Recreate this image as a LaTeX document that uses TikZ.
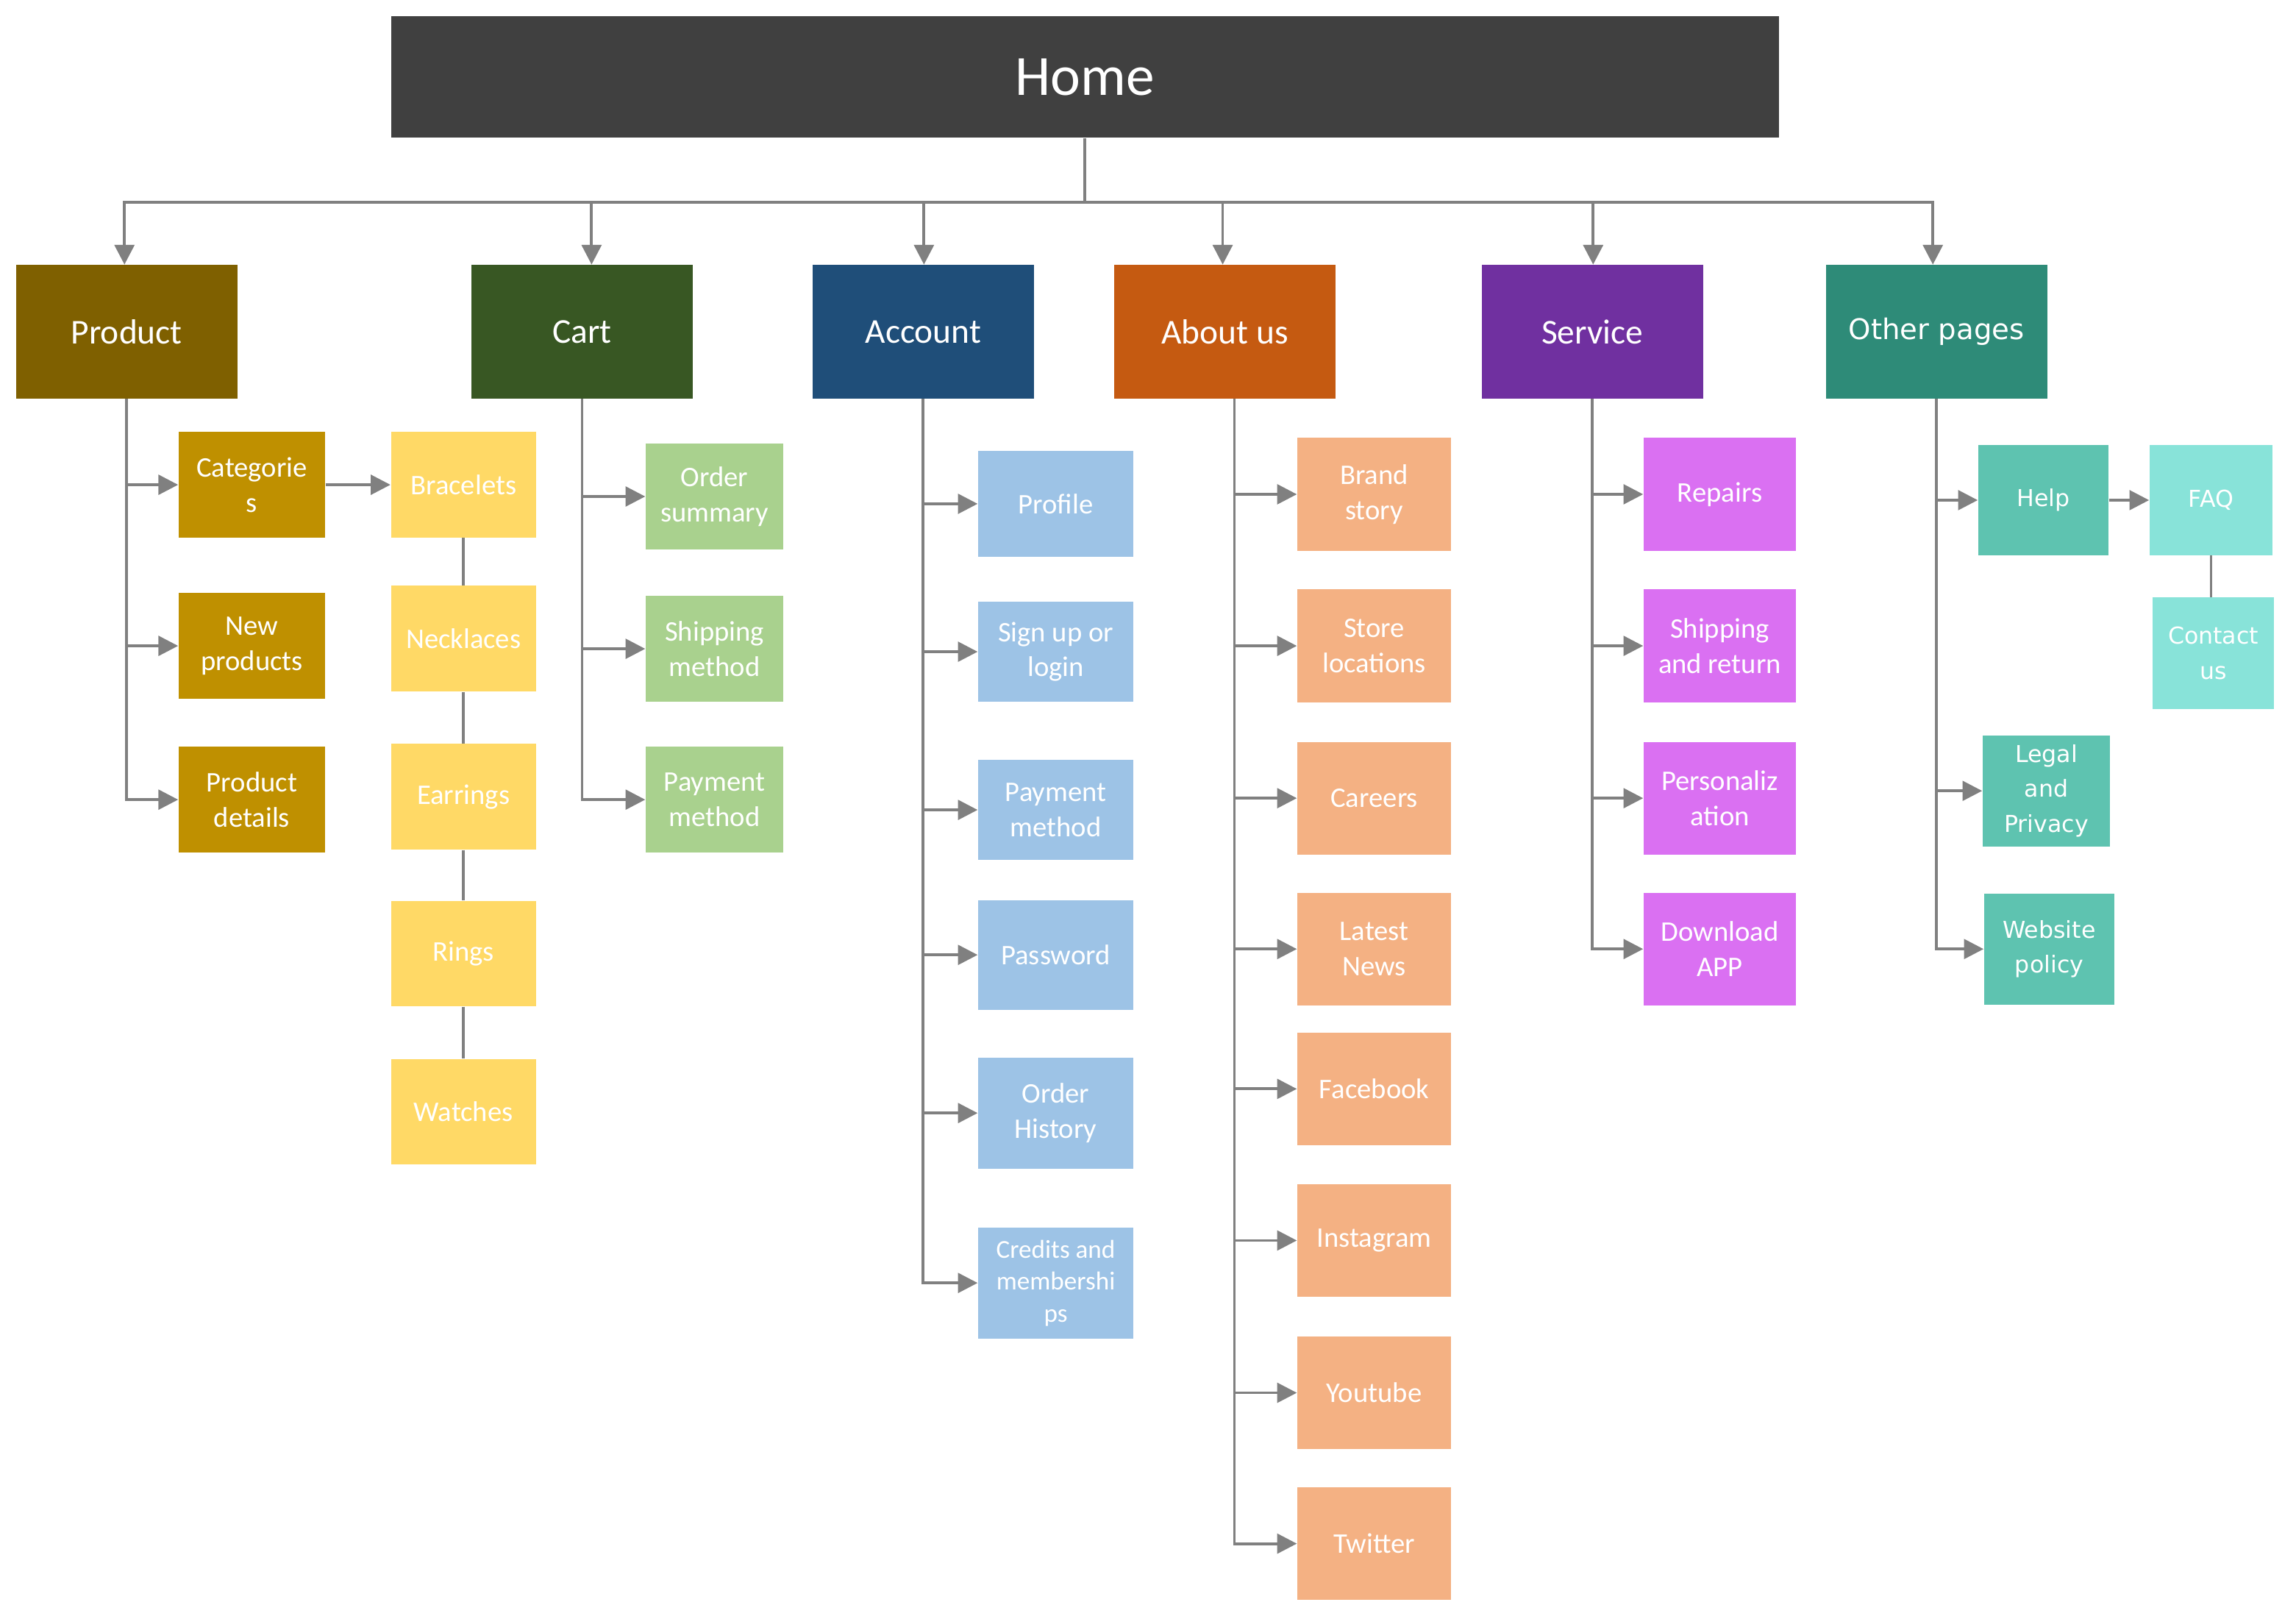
\documentclass[tikz,border=0pt]{standalone}
\usepackage{fontspec}
\setmainfont{Carlito}
\newfontfamily\vfont{DejaVu Sans}
\usetikzlibrary{arrows.meta}

\def\unitpx{0.19911mm}
\definecolor{homec}{HTML}{404040}
\definecolor{prodc}{HTML}{7F6000}
\definecolor{cartc}{HTML}{385723}
\definecolor{acctc}{HTML}{1F4E79}
\definecolor{aboutc}{HTML}{C55A11}
\definecolor{servc}{HTML}{7030A0}
\definecolor{otherc}{HTML}{2E8B78}
\definecolor{catc}{HTML}{BF9000}
\definecolor{yelc}{HTML}{FFD966}
\definecolor{grnc}{HTML}{A9D18E}
\definecolor{bluc}{HTML}{9DC3E6}
\definecolor{orac}{HTML}{F4B183}
\definecolor{purc}{HTML}{DA70F2}
\definecolor{tealc}{HTML}{5EC3B0}
\definecolor{ltealc}{HTML}{88E3D9}
\definecolor{linec}{HTML}{808080}

\tikzstyle{box}=[inner sep=0pt, align=center, text=white]
\tikzstyle{topbox}=[box, minimum width=151*\unitpx, minimum height=91*\unitpx, font=\fontsize{13.5}{16}\selectfont]
\tikzstyle{subbox}=[box, font=\fontsize{11}{13.6}\selectfont]
\tikzstyle{vbox}=[box, font=\vfont\fontsize{9}{13.6}\selectfont]
\tikzstyle{link}=[-{Triangle[length=7.6pt,width=7.6pt]}, draw=linec, line width=1.1pt]
\tikzstyle{plain}=[draw=linec, line width=1.1pt]

\begin{document}
\begin{tikzpicture}[x=\unitpx, y=-\unitpx]
  \useasboundingbox (0,0) rectangle (1568,1103);

  \node[box, fill=homec, minimum width=948*\unitpx, minimum height=83*\unitpx,
        font=\fontsize{22}{26}\selectfont] (home) at (741,52.5) {Home};

  % first level
  \node[topbox, fill=prodc] (prod) at (86.5,226.5) {Product};
  \node[topbox, fill=cartc] (cart) at (397.5,226.5) {Cart};
  \node[topbox, fill=acctc] (acct) at (630.5,226.5) {Account};
  \node[topbox, fill=aboutc] (about) at (836.5,226.5) {About us};
  \node[topbox, fill=servc] (serv) at (1087.5,226.5) {Service};
  \node[topbox, fill=otherc, font=\vfont\fontsize{11}{13}\selectfont] (other) at (1322.5,226.5) {Other pages};

  \coordinate (bus) at (740,138);
  \draw[plain] (home.south) -- (home.south |- bus);
  \foreach \p/\dx in {prod/-1.5, cart/6.5, acct/0.5, about/-1.5, serv/0.5, other/-2.5}
    \draw[link] (home.south |- bus) -| ([xshift=\dx*\unitpx]\p.north);

  % product
  \foreach \n/\t/\y in {cat/{Categorie\\s}/331, newp/{New\\products}/441, pdet/{Product\\details}/546} {
    \node[subbox, fill=catc, minimum width=100*\unitpx, minimum height=72*\unitpx] (\n) at (172,\y) {\t};
    \draw[link] (prod.south) |- (\n.west);
  }
  \foreach \n/\t/\y in {brac/Bracelets/331, neck/Necklaces/436, ear/Earrings/544, ring/Rings/651, watch/Watches/759}
    \node[subbox, fill=yelc, minimum width=99*\unitpx, minimum height=72*\unitpx] (\n) at (316.5,\y) {\t};
  \draw[link] (cat) -- (brac);
  \draw[plain] (brac) -- (neck) -- (ear) -- (ring) -- (watch);

  % cart
  \foreach \n/\t/\y in {osum/{Order\\summary}/339, smeth/{Shipping\\method}/443, pmeth/{Payment\\method}/546} {
    \node[subbox, fill=grnc, minimum width=94*\unitpx, minimum height=72*\unitpx] (\n) at (488,\y) {\t};
    \draw[link] (cart.south) |- (\n.west);
  }

  % account
  \foreach \n/\t/\y/\h in {prof/Profile/344/72, sign/{Sign up or\\login}/445/68, apay/{Payment\\method}/553/68,
                           pass/Password/652/75, ohist/{Order\\History}/760/76} {
    \node[subbox, fill=bluc, minimum width=106*\unitpx, minimum height=\h*\unitpx] (\n) at (721,\y) {\t};
    \draw[link] (acct.south) |- (\n.west);
  }
  \node[subbox, fill=bluc, minimum width=106*\unitpx, minimum height=76*\unitpx,
        font=\fontsize{10}{12.4}\selectfont] (cred) at (721,876) {Credits and\\membershi\\ps};
  \draw[link] (acct.south) |- (cred.west);

  % about us
  \foreach \n/\t/\y in {brand/{Brand\\story}/337.5, store/{Store\\locations}/441, car/Careers/545, news/{Latest\\News}/648,
                        fb/Facebook/743.5, insta/Instagram/847, yt/Youtube/951, tw/Twitter/1054} {
    \node[subbox, fill=orac, minimum width=105*\unitpx, minimum height=77*\unitpx] (\n) at (938.5,\y) {\t};
    \draw[link] ([xshift=6.5*\unitpx]about.south) |- (\n.west);
  }

  % service
  \foreach \n/\t/\y in {rep/Repairs/337.5, ship/{Shipping\\and return}/441, pers/{Personaliz\\ation}/545, dl/{Download\\APP}/648} {
    \node[subbox, fill=purc, minimum width=104*\unitpx, minimum height=77*\unitpx] (\n) at (1174.5,\y) {\t};
    \draw[link] (serv.south) |- (\n.west);
  }

  % other pages
  \node[vbox, fill=tealc, minimum width=89*\unitpx, minimum height=75*\unitpx] (help) at (1395.5,341.5) {Help};
  \node[vbox, fill=ltealc, minimum width=84*\unitpx, minimum height=75*\unitpx] (faq) at (1510,341.5) {FAQ};
  \node[vbox, fill=ltealc, minimum width=83*\unitpx, minimum height=76*\unitpx] (contact) at (1511.5,446) {Contact\\us};
  \node[vbox, fill=tealc, minimum width=87*\unitpx, minimum height=76*\unitpx] (legal) at (1397.5,540) {Legal\\and\\Privacy};
  \node[vbox, fill=tealc, minimum width=89*\unitpx, minimum height=76*\unitpx] (web) at (1399.5,648) {Website\\policy};
  \foreach \n in {help, legal, web}
    \draw[link] (other.south) |- (\n.west);
  \draw[link] (help) -- (faq);
  \draw[plain] (faq.south) -- (faq.south |- contact.north);
\end{tikzpicture}
\end{document}
